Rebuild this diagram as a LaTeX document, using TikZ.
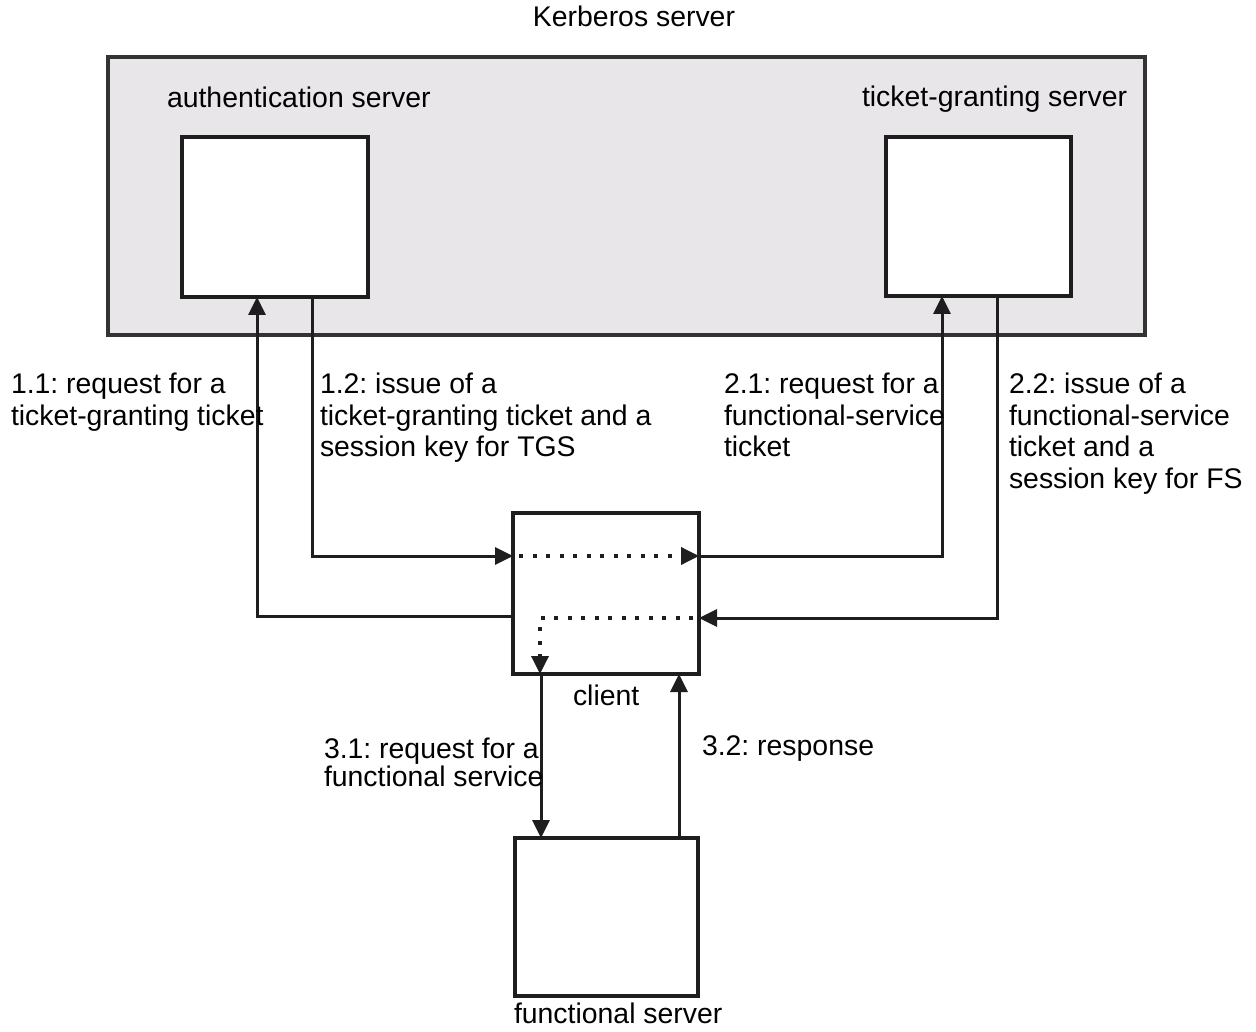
\documentclass[tikz,border=0pt]{standalone}
\usepackage{fontspec}
\setmainfont{Liberation Sans}
\usetikzlibrary{arrows.meta}
\definecolor{kgray}{HTML}{E9E6EA}
\definecolor{ink}{HTML}{1E1E1E}
\definecolor{frame}{HTML}{333333}
\frenchspacing
\begin{document}
\begin{tikzpicture}[x=1pt,y=-1pt,
  box/.style={draw=ink, line width=3.2pt, fill=white, inner sep=0pt, outer sep=0pt},
  conn/.style={draw=ink, line width=3pt, -{Triangle[length=18pt,width=17pt]}},
  dots/.style={draw=ink, line width=3.5pt, dash pattern=on 4pt off 9.5pt, -{Triangle[length=18pt,width=17pt]}},
  lbl/.style={inner sep=0pt, outer sep=0pt, align=left, anchor=north west, font=\fontsize{28.4}{31.5}\selectfont, text=black},
  lbltight/.style={lbl, font=\fontsize{28.4}{24.5}\selectfont},
  ttl/.style={inner sep=0pt, outer sep=0pt, font=\fontsize{28.4}{31.5}\selectfont, text=black}
]
\path[fill=white] (0,0) rectangle (1256,1032);
\useasboundingbox (0,0) rectangle (1256,1032);

% Kerberos server frame
\node[draw=frame, fill=kgray, line width=3.2pt, inner sep=0pt, minimum width=1037pt, minimum height=278pt] (kdc) at (626.5,196) {};
\node[ttl, anchor=base] (kdct) at (634,27) {Kerberos server};

% servers
\node[box, minimum width=186pt, minimum height=160pt] (auth) at (275,217) {};
\node[ttl, anchor=base west] (autht) at (167,108) {authentication server};
\node[box, minimum width=185pt, minimum height=159pt] (tgs) at (978.5,216.5) {};
\node[ttl, anchor=base west] (tgst) at (862,107) {ticket-granting server};

\node[box, minimum width=186pt, minimum height=161pt] (client) at (606,593.5) {};
\node[ttl, anchor=base west] (clientt) at (573,705) {client};

\node[box, minimum width=183pt, minimum height=158pt] (fs) at (606.5,917) {};
\node[ttl, anchor=base west] (fst) at (514,1023) {functional server};

% connectors
\draw[conn] ([yshift=-22.5pt]client.west) -| ([xshift=-18pt]auth.south);
\draw[conn] ([xshift=37pt]auth.south) |- ([yshift=37.5pt]client.west);
\draw[dots] ([yshift=37.5pt,xshift=6pt]client.west) -- ([yshift=37.5pt]client.east);
\draw[conn] ([yshift=37.5pt]client.east) -| ([xshift=-36.5pt]tgs.south);
\draw[conn] ([xshift=18.5pt]tgs.south) |- ([yshift=-24.5pt]client.east);
\draw[dots] ([yshift=-24.5pt,xshift=-6pt]client.east) -| ([xshift=-66pt]client.south);
\draw[conn] ([xshift=-65pt]client.south) -- ([xshift=-65.5pt]fs.north);
\draw[conn] ([xshift=72.5pt]fs.north) -- ([xshift=73pt]client.south);

% labels
\node[lbl] (l11) at (11,373) {1.1: request for a\\ticket-granting ticket};
\node[lbl] (l12) at (320,373) {1.2: issue of a\\ticket-granting ticket and a\\session key for TGS};
\node[lbl] (l21) at (724,373) {2.1: request for a\\functional-service\\ticket};
\node[lbl] (l22) at (1009,373) {2.2: issue of a\\functional-service\\ticket and a\\session key for FS};
\node[lbltight] (l31) at (324,738) {3.1: request for a\\functional service};
\node[lbl] (l32) at (702,736) {3.2: response};
\end{tikzpicture}
\end{document}
